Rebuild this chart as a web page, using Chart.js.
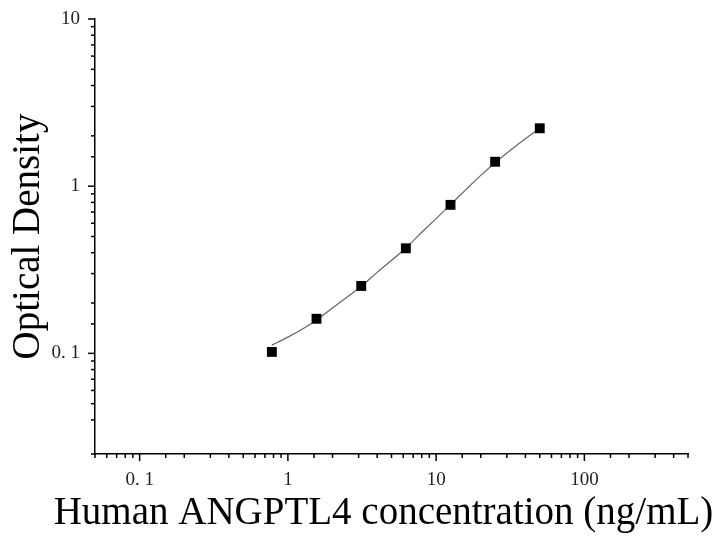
<!DOCTYPE html>
<html>
<head>
<meta charset="utf-8">
<script src="https://cdn.jsdelivr.net/npm/chart.js@4/dist/chart.umd.min.js"></script>
<style>
html,body{margin:0;padding:0;background:#fff;}
#wrap{width:715px;height:536px;}
</style>
</head>
<body>
<div id="wrap"><canvas id="c" width="715" height="536"></canvas></div>
<script>
// Standard concentrations (ng/mL) and measured OD
const concentrations = [0.78, 1.56, 3.125, 6.25, 12.5, 25, 50];
const odValues = [0.102, 0.161, 0.253, 0.425, 0.773, 1.40, 2.22];
// Fitted curve
const curveX = [0.78, 1, 1.56, 2, 3.125, 4, 6.25, 8, 10, 12.5, 16, 20, 25, 32, 40, 50];
const curveY = [0.112, 0.125, 0.158, 0.187, 0.252, 0.305, 0.427, 0.53, 0.64, 0.775, 0.96, 1.16, 1.38, 1.65, 1.92, 2.22];
// Tick labels
const xTickLabels = {0.1: '0. 1', 1: '1', 10: '10', 100: '100'};
const yTickLabels = {0.1: '0. 1', 1: '1', 10: '10'};
const xTitle = 'Human ANGPTL4 concentration (ng/mL)';
const yTitle = 'Optical Density';

function labelFor(map, v) {
  for (const k in map) {
    if (Math.abs(Math.log10(v) - Math.log10(parseFloat(k))) < 1e-6) return map[k];
  }
  return '';
}

const tickPlugin = {
  id: 'logTicks',
  afterDraw(chart) {
    const ctx = chart.ctx;
    ctx.save();
    ctx.strokeStyle = '#000';
    ctx.lineWidth = 1.5;
    const xs = chart.scales.x, ys = chart.scales.y;
    xs.ticks.forEach(t => {
      const v = t.value;
      if (v < xs.min - 1e-12 || v > xs.max + 1e-9) return;
      const lg = Math.log10(v);
      const major = Math.abs(lg - Math.round(lg)) < 1e-6;
      const len = major ? 7 : 4;
      const px = xs.getPixelForValue(v);
      ctx.beginPath();
      ctx.moveTo(px, xs.top);
      ctx.lineTo(px, xs.top + len);
      ctx.stroke();
    });
    ys.ticks.forEach(t => {
      const v = t.value;
      if (v < ys.min - 1e-12 || v > ys.max + 1e-9) return;
      const lg = Math.log10(v);
      const major = Math.abs(lg - Math.round(lg)) < 1e-6;
      const len = major ? 7 : 4;
      const py = ys.getPixelForValue(v);
      ctx.beginPath();
      ctx.moveTo(ys.right, py);
      ctx.lineTo(ys.right - len, py);
      ctx.stroke();
    });
    // x-axis title (drawn without width squeezing)
    ctx.fillStyle = '#000';
    ctx.font = '39px "Liberation Serif"';
    ctx.textAlign = 'center';
    ctx.textBaseline = 'middle';
    ctx.fillText(xTitle, (chart.chartArea.left + chart.chartArea.right) / 2 - 8, xs.bottom - 22);
    ctx.restore();
  }
};

new Chart(document.getElementById('c'), {
  type: 'scatter',
  data: {
    datasets: [
      {
        label: 'fit',
        data: curveX.map((x, i) => ({x: x, y: curveY[i]})),
        showLine: true,
        borderColor: '#666',
        borderWidth: 1.2,
        pointRadius: 0,
        tension: 0.4,
        cubicInterpolationMode: 'monotone',
        fill: false,
        order: 2
      },
      {
        label: 'OD',
        data: concentrations.map((x, i) => ({x: x, y: odValues[i]})),
        showLine: false,
        pointStyle: 'rect',
        pointRadius: 7,
        pointBackgroundColor: '#000',
        pointBorderColor: '#000',
        pointBorderWidth: 0,
        order: 1
      }
    ]
  },
  options: {
    responsive: false,
    animation: false,
    devicePixelRatio: 1,
    layout: {padding: {top: 19, right: 27, left: 0, bottom: 0}},
    plugins: {legend: {display: false}, tooltip: {enabled: false}},
    scales: {
      x: {
        type: 'logarithmic',
        min: 0.05,
        max: 500,
        grid: {display: true, drawOnChartArea: false, drawTicks: false},
        border: {display: true, color: '#000', width: 1.5},
        ticks: {
          autoSkip: false,
          maxRotation: 0,
          padding: 15,
          color: '#222',
          font: {family: 'Liberation Serif', size: 19},
          callback: (v) => labelFor(xTickLabels, v)
        },
        title: {display: false, text: xTitle},
        afterFit: (s) => { s.height = 82; s.paddingLeft = 0; s.paddingRight = 0; }
      },
      y: {
        type: 'logarithmic',
        min: 0.025,
        max: 10,
        grid: {display: true, drawOnChartArea: false, drawTicks: false},
        border: {display: true, color: '#000', width: 1.5},
        ticks: {
          autoSkip: false,
          padding: 15,
          color: '#222',
          font: {family: 'Liberation Serif', size: 19},
          callback: (v) => labelFor(yTickLabels, v)
        },
        title: {
          display: true,
          text: yTitle,
          color: '#000',
          font: {family: 'Liberation Serif', size: 39},
          padding: {top: 5, bottom: 0}
        },
        afterFit: (s) => { s.width = 95; s.paddingTop = 0; s.paddingBottom = 0; }
      }
    }
  },
  plugins: [tickPlugin]
});
</script>
</body>
</html>
